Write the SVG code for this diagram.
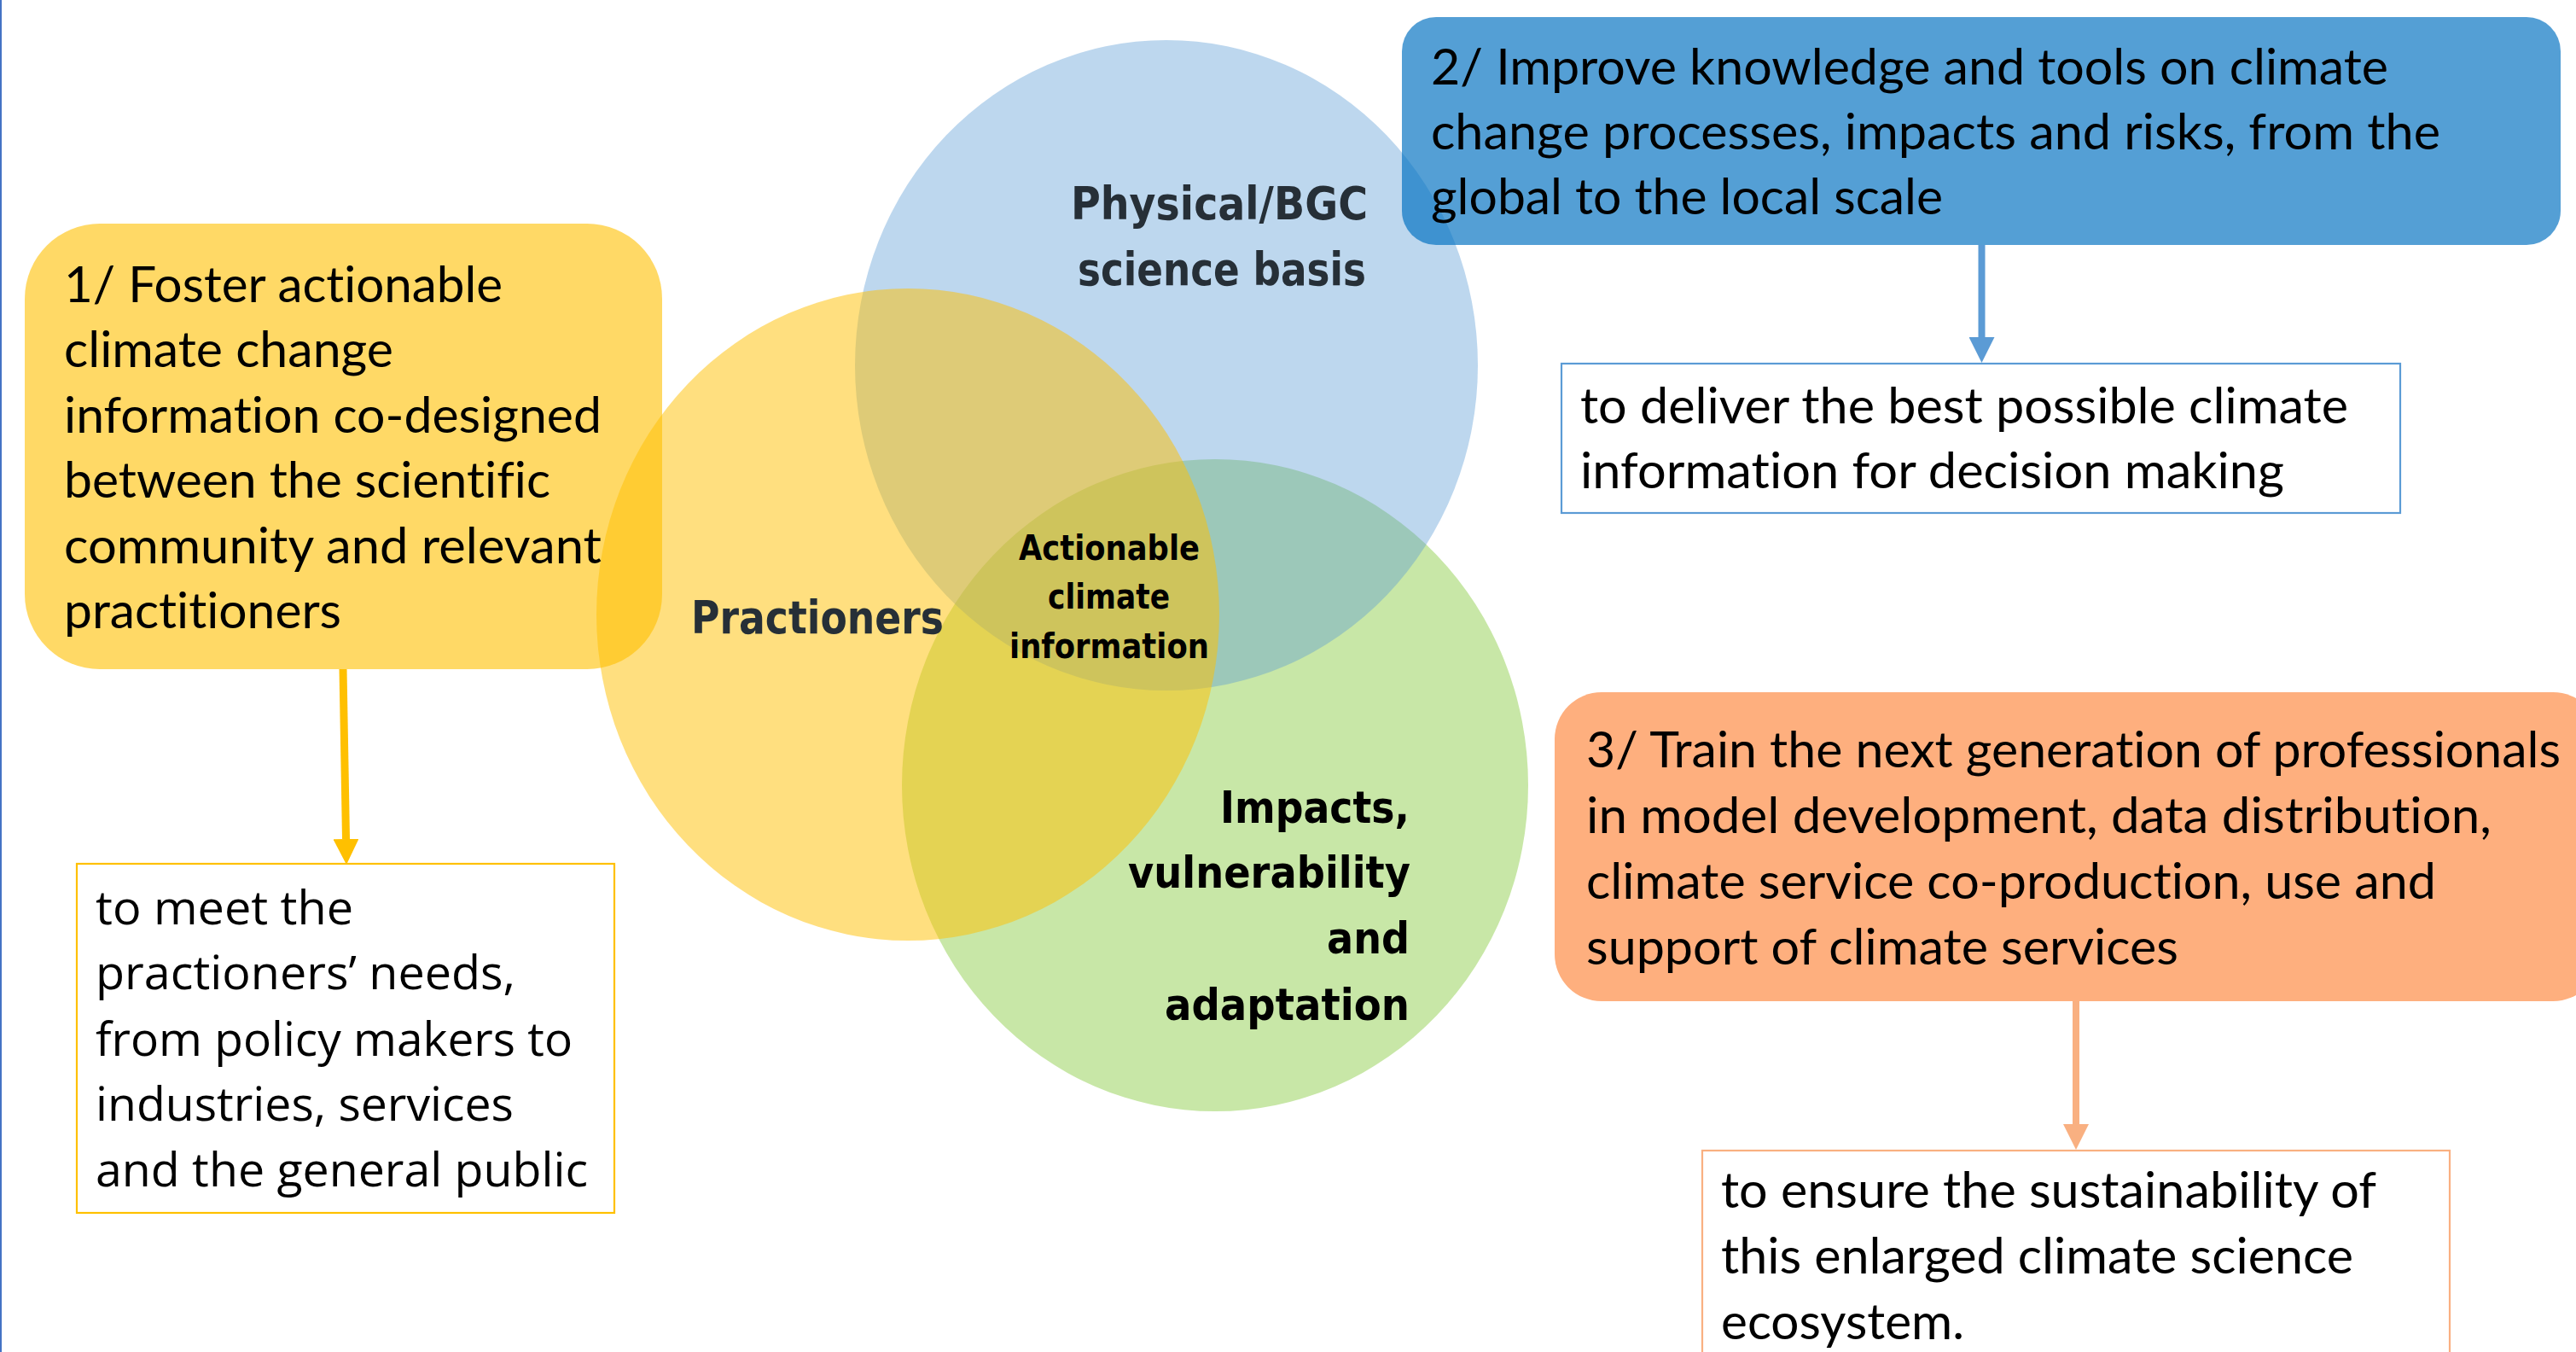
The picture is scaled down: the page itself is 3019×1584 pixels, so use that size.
<svg xmlns="http://www.w3.org/2000/svg" width="3019" height="1584" viewBox="0 0 3019 1584">
<style>
.t{font-family:Lato,"Open Sans",sans-serif;font-size:58px;fill:#000;font-variant-ligatures:none}
.s{font-family:"Open Sans",sans-serif;font-size:55px;fill:#000;font-variant-ligatures:none}
.v{font-family:"DejaVu Sans",sans-serif;font-weight:bold}
.dk{fill:#262f37}
.bk{fill:#000}
.sub{fill:#fff;stroke-width:2.2}
</style>
<defs>
<marker id="hY" markerUnits="userSpaceOnUse" markerWidth="30" markerHeight="30" viewBox="0 0 30 30" refX="0" refY="15" orient="auto"><path d="M0,0 L30,15 L0,30 z" fill="#ffc000"/></marker>
<marker id="hB" markerUnits="userSpaceOnUse" markerWidth="30" markerHeight="30" viewBox="0 0 30 30" refX="0" refY="15" orient="auto"><path d="M0,0 L30,15 L0,30 z" fill="#5b9bd5"/></marker>
<marker id="hO" markerUnits="userSpaceOnUse" markerWidth="30" markerHeight="30" viewBox="0 0 30 30" refX="0" refY="15" orient="auto"><path d="M0,0 L30,15 L0,30 z" fill="#f9b081"/></marker>
</defs>
<rect x="0" y="0" width="3019" height="1584" fill="#fff"/>
<rect x="0" y="0" width="2" height="1584" fill="#4472c4"/>

<g id="venn">
<g id="circle-impacts"><ellipse cx="1424" cy="920" rx="367" ry="382" fill="#92d050" fill-opacity="0.5"/></g>
<g id="circle-physical"><ellipse cx="1367" cy="428" rx="365" ry="381" fill="#5b9bd5" fill-opacity="0.4"/></g>
<g id="circle-practioners"><ellipse cx="1064" cy="720" rx="365" ry="382" fill="#ffc000" fill-opacity="0.5"/></g>
</g>

<g id="connectors">
<line x1="402" y1="784" x2="405.5" y2="983" stroke="#ffc000" stroke-width="9" marker-end="url(#hY)"/>
<line x1="2322.5" y1="287" x2="2322.5" y2="395" stroke="#5b9bd5" stroke-width="8" marker-end="url(#hB)"/>
<line x1="2433" y1="1173" x2="2433" y2="1317" stroke="#f9b081" stroke-width="8" marker-end="url(#hO)"/>
</g>

<g id="goal1">
<rect x="29" y="262" width="747" height="522" rx="88" ry="88" fill="#ffc000" fill-opacity="0.6"/>
<text class="t" x="75" y="354" textLength="514" lengthAdjust="spacingAndGlyphs">1/ Foster actionable</text>
<text class="t" x="75" y="430" textLength="386" lengthAdjust="spacingAndGlyphs">climate change</text>
<text class="t" x="75" y="507" textLength="630" lengthAdjust="spacingAndGlyphs">information co-designed</text>
<text class="t" x="75" y="583" textLength="570" lengthAdjust="spacingAndGlyphs">between the scientific</text>
<text class="t" x="75" y="660" textLength="630" lengthAdjust="spacingAndGlyphs">community and relevant</text>
<text class="t" x="75" y="736" textLength="325" lengthAdjust="spacingAndGlyphs">practitioners</text>
</g>

<g id="goal2">
<rect x="1643" y="20" width="1358" height="267" rx="40" ry="40" fill="#0070c0" fill-opacity="0.67"/>
<text class="t" x="1677" y="99" textLength="1122" lengthAdjust="spacingAndGlyphs">2/ Improve knowledge and tools on climate</text>
<text class="t" x="1677" y="175" textLength="1183" lengthAdjust="spacingAndGlyphs">change processes, impacts and risks, from the</text>
<text class="t" x="1677" y="251" textLength="600" lengthAdjust="spacingAndGlyphs">global to the local scale</text>
</g>

<g id="goal3">
<rect x="1822" y="811" width="1225" height="362" rx="55" ry="55" fill="#feaf7e"/>
<text class="t" x="1859" y="899" textLength="1142" lengthAdjust="spacingAndGlyphs">3/ Train the next generation of professionals</text>
<text class="t" x="1859" y="976" textLength="1061" lengthAdjust="spacingAndGlyphs">in model development, data distribution,</text>
<text class="t" x="1859" y="1053" textLength="996" lengthAdjust="spacingAndGlyphs">climate service co-production, use and</text>
<text class="t" x="1859" y="1130" textLength="694" lengthAdjust="spacingAndGlyphs">support of climate services</text>
</g>

<g id="outcome1">
<rect class="sub" x="90" y="1012" width="630" height="409" stroke="#ffc000"/>
<text class="s" x="112" y="1083" textLength="302" lengthAdjust="spacingAndGlyphs">to meet the</text>
<text class="s" x="112" y="1159" textLength="492" lengthAdjust="spacingAndGlyphs">practioners’ needs,</text>
<text class="s" x="112" y="1237" textLength="559" lengthAdjust="spacingAndGlyphs">from policy makers to</text>
<text class="s" x="112" y="1313" textLength="490" lengthAdjust="spacingAndGlyphs">industries, services</text>
<text class="s" x="112" y="1390" textLength="577" lengthAdjust="spacingAndGlyphs">and the general public</text>
</g>

<g id="outcome2">
<rect class="sub" x="1830" y="426" width="983" height="175" stroke="#5b9bd5"/>
<text class="t" x="1852" y="496" textLength="900" lengthAdjust="spacingAndGlyphs">to deliver the best possible climate</text>
<text class="t" x="1852" y="572" textLength="825" lengthAdjust="spacingAndGlyphs">information for decision making</text>
</g>

<g id="outcome3">
<rect class="sub" x="1995" y="1348" width="876" height="260" stroke="#f9b081"/>
<text class="t" x="2017" y="1415" textLength="768" lengthAdjust="spacingAndGlyphs">to ensure the sustainability of</text>
<text class="t" x="2017" y="1492" textLength="741" lengthAdjust="spacingAndGlyphs">this enlarged climate science</text>
<text class="t" x="2017" y="1569" textLength="285" lengthAdjust="spacingAndGlyphs">ecosystem.</text>
</g>

<g id="label-physical">
<text class="v dk" font-size="53" x="1255" y="257" textLength="348" lengthAdjust="spacingAndGlyphs">Physical/BGC</text>
<text class="v dk" font-size="53" x="1263" y="334" textLength="338" lengthAdjust="spacingAndGlyphs">science basis</text>
</g>
<g id="label-practioners">
<text class="v dk" font-size="54" x="810" y="742" textLength="296" lengthAdjust="spacingAndGlyphs">Practioners</text>
</g>
<g id="label-actionable">
<text class="v bk" font-size="40" x="1194" y="656" textLength="212" lengthAdjust="spacingAndGlyphs">Actionable</text>
<text class="v bk" font-size="40" x="1228" y="713" textLength="143" lengthAdjust="spacingAndGlyphs">climate</text>
<text class="v bk" font-size="40" x="1183" y="771" textLength="234" lengthAdjust="spacingAndGlyphs">information</text>
</g>
<g id="label-impacts">
<text class="v bk" font-size="52" x="1430" y="964" textLength="222" lengthAdjust="spacingAndGlyphs">Impacts,</text>
<text class="v bk" font-size="52" x="1322" y="1040" textLength="331" lengthAdjust="spacingAndGlyphs">vulnerability</text>
<text class="v bk" font-size="52" x="1555" y="1117" textLength="97" lengthAdjust="spacingAndGlyphs">and</text>
<text class="v bk" font-size="52" x="1365" y="1195" textLength="287" lengthAdjust="spacingAndGlyphs">adaptation</text>
</g>
</svg>
